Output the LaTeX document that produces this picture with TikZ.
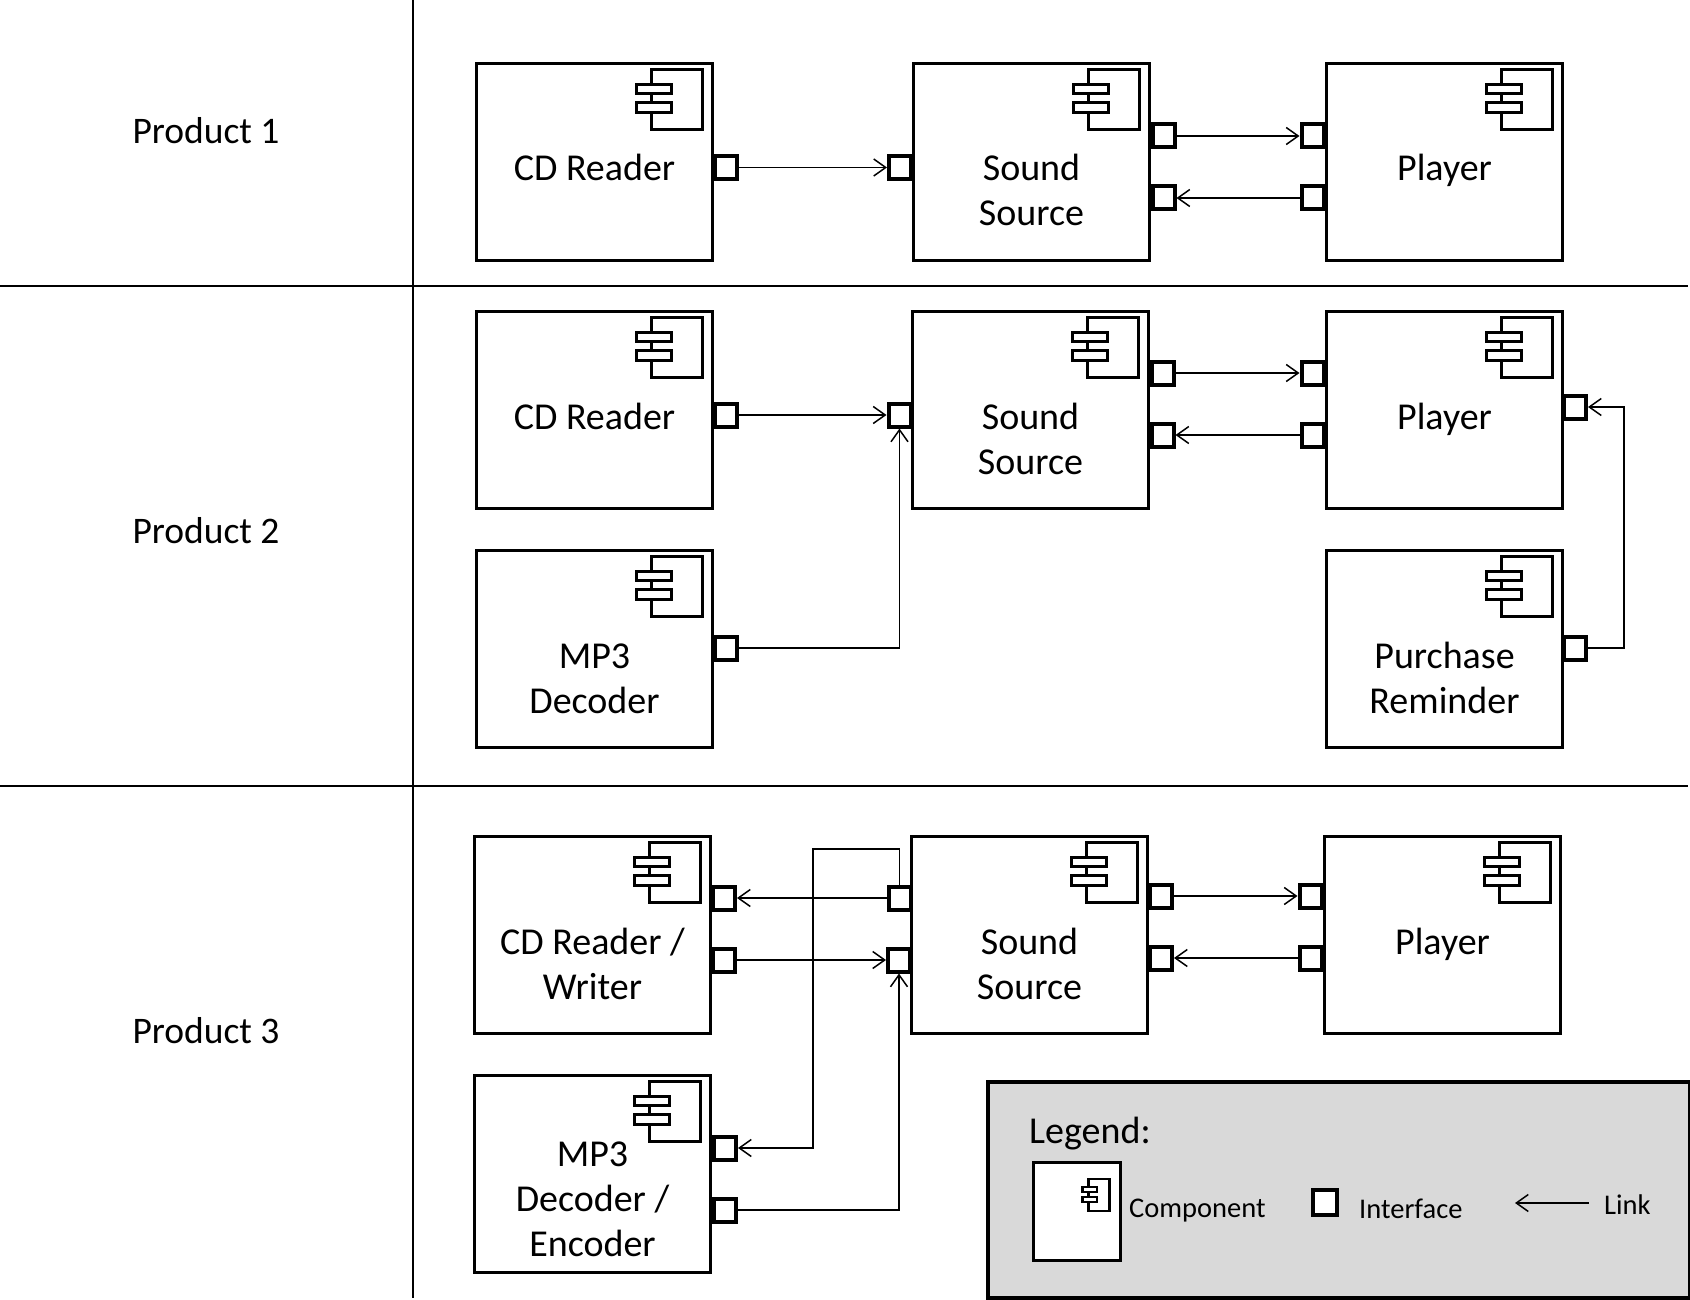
\documentclass[tikz,border=0pt]{standalone}
\usepackage{fontspec}
\setmainfont{Carlito}
\usetikzlibrary{positioning,arrows.meta}
\tikzset{
  comp/.style={draw,line width=3pt,rectangle,fill=white,anchor=north west,inner sep=0pt,minimum width=236pt,minimum height=197pt,xshift=-1pt,yshift=.7pt},
  complabel/.style={align=center,inner sep=0pt,font=\fontsize{38}{45}\selectfont},
  ifc/.style={draw,line width=4pt,rectangle,fill=white,inner sep=0pt,minimum width=22pt,minimum height=23pt},
  link/.style={line width=1.5pt,-{Straight Barb[length=12pt,width=17pt,line width=1.5pt]}},
  rule/.style={line width=1.5pt},
  rowlabel/.style={inner sep=0pt,font=\fontsize{37.5}{45}\selectfont},
  legtext/.style={inner sep=0pt,anchor=base west,font=\fontsize{28.5}{32}\selectfont},
}
% component box with its icon and its text
\newcommand{\compicon}[2]{
\draw[line width=#2,shift={#1}] (-63,7) rectangle (-12,67);
\draw[line width=#2,shift={#1},fill=white] (-78,22) rectangle (-43,31);
\draw[line width=#2,shift={#1},fill=white] (-78,40) rectangle (-43,50);
}
\newcommand{\compbox}[5][87pt]{
\node[comp] (#2) at (#3,#4) {};
\compicon{(#2.north east)}{3pt}
\node[complabel,below=#1 of #2.north] (#2-text) {\strut#5};
}
\begin{document}
\begin{tikzpicture}[x=1pt,y=-1pt]
\useasboundingbox (0,0) rectangle (1690,1300);
% table lines
\coordinate (vtop) at (413,0);
\coordinate (vbot) at (413,1298);
\coordinate (hAl) at (0,286);
\coordinate (hAr) at (1688,286);
\coordinate (hBl) at (0,786);
\coordinate (hBr) at (1688,786);
\draw[rule] (vtop)--(vbot);
\draw[rule] (hAl)--(hAr);
\draw[rule] (hBl)--(hBr);
\node[rowlabel] (prodA) at (206,131) {Product 1};
\node[rowlabel] (prodB) at (206,531) {Product 2};
\node[rowlabel] (prodC) at (206,1031) {Product 3};
% product 1
\compbox{cdA}{476}{63}{CD Reader}
\compbox{srcA}{913}{63}{Sound\\Source}
\compbox{plyA}{1326}{63}{Player}
\node[ifc] (cdA-o) at (726,167.5) {};
\node[ifc] (srcA-i) at (900,167.5) {};
\node[ifc] (srcA-a) at (1163.5,136) {};
\node[ifc] (srcA-b) at (1163.5,198) {};
\node[ifc] (plyA-a) at (1312.5,136) {};
\node[ifc] (plyA-b) at (1312.5,198) {};
\draw[link] (cdA-o)--(srcA-i);
\draw[link] (srcA-a)--(plyA-a);
\draw[link] (plyA-b)--(srcA-b);
% product 2
\compbox{cdB}{476}{311}{CD Reader}
\compbox{srcB}{912}{311}{Sound\\Source}
\compbox{plyB}{1326}{311}{Player}
\compbox{mpB}{476}{550}{MP3\\Decoder}
\compbox{purB}{1326}{550}{Purchase\\Reminder}
\node[ifc] (cdB-o) at (726,415) {};
\node[ifc] (srcB-i) at (899.5,415) {};
\node[ifc] (srcB-a) at (1162.5,373) {};
\node[ifc] (srcB-b) at (1162.5,435) {};
\node[ifc] (plyB-a) at (1312.5,373) {};
\node[ifc] (plyB-b) at (1312.5,435) {};
\node[ifc] (plyB-r) at (1575,407) {};
\node[ifc] (mpB-o) at (726,648) {};
\node[ifc] (purB-o) at (1575,648) {};
\coordinate (purB-c) at (1624,648);
\draw[link] (cdB-o)--(srcB-i);
\draw[link] (srcB-a)--(plyB-a);
\draw[link] (plyB-b)--(srcB-b);
\draw[link] (mpB-o)-|(srcB-i);
\draw[link] (purB-o)--(purB-c)|-(plyB-r);
% product 3
\compbox{cdC}{474}{836}{CD Reader /\\Writer}
\compbox{srcC}{911}{836}{Sound\\Source}
\compbox{plyC}{1324}{836}{Player}
\compbox[60pt]{mpC}{474}{1075}{MP3\\Decoder /\\Encoder}
\node[ifc] (cdC-a) at (724,898) {};
\node[ifc] (cdC-b) at (724,960) {};
\node[ifc] (srcC-a) at (899.5,898) {};
\node[ifc] (srcC-b) at (899,960) {};
\node[ifc] (srcC-c) at (1161,896) {};
\node[ifc] (srcC-d) at (1161,958) {};
\node[ifc] (plyC-a) at (1310.5,896) {};
\node[ifc] (plyC-b) at (1310.5,958) {};
\node[ifc] (mpC-a) at (725,1148) {};
\node[ifc] (mpC-b) at (725,1210) {};
\coordinate (busC) at (813,849);
\draw[link] (srcC-a)--(cdC-a);
\draw[link] (cdC-b)--(srcC-b);
\draw[link] (srcC-c)--(plyC-a);
\draw[link] (plyC-b)--(srcC-d);
\draw[link] (srcC-a.north)|-(busC)|-(mpC-a);
\draw[link] (mpC-b)-|(srcC-b);
% legend
\node[draw,line width=4pt,fill=black!15,rectangle,anchor=north west,inner sep=0pt,minimum width=702pt,minimum height=216pt] (leg) at (986,1080) {};
\node[legtext,font=\fontsize{38}{45}\selectfont] (leg-title) at (1029,1143) {Legend:};
\node[comp,minimum width=87pt,minimum height=98pt] (leg-comp) at (1033,1162) {};
\coordinate (leg-icon) at (1114.5,1175.5);
\begin{scope}[shift={(leg-icon)},xscale=.41,yscale=.533]
\compicon{(0,0)}{2.5pt}
\end{scope}
\node[legtext] (leg-comptext) at (1129,1217) {Component};
\node[ifc,minimum width=24pt,minimum height=25pt] (leg-ifc) at (1325,1202.5) {};
\node[legtext] (leg-ifctext) at (1359,1218) {Interface};
\node[legtext] (leg-linktext) at (1604,1214) {Link};
\coordinate (leg-linka) at (1588.5,1203);
\coordinate (leg-linkb) at (1515,1203);
\draw[link] (leg-linka)--(leg-linkb);
\end{tikzpicture}
\end{document}
